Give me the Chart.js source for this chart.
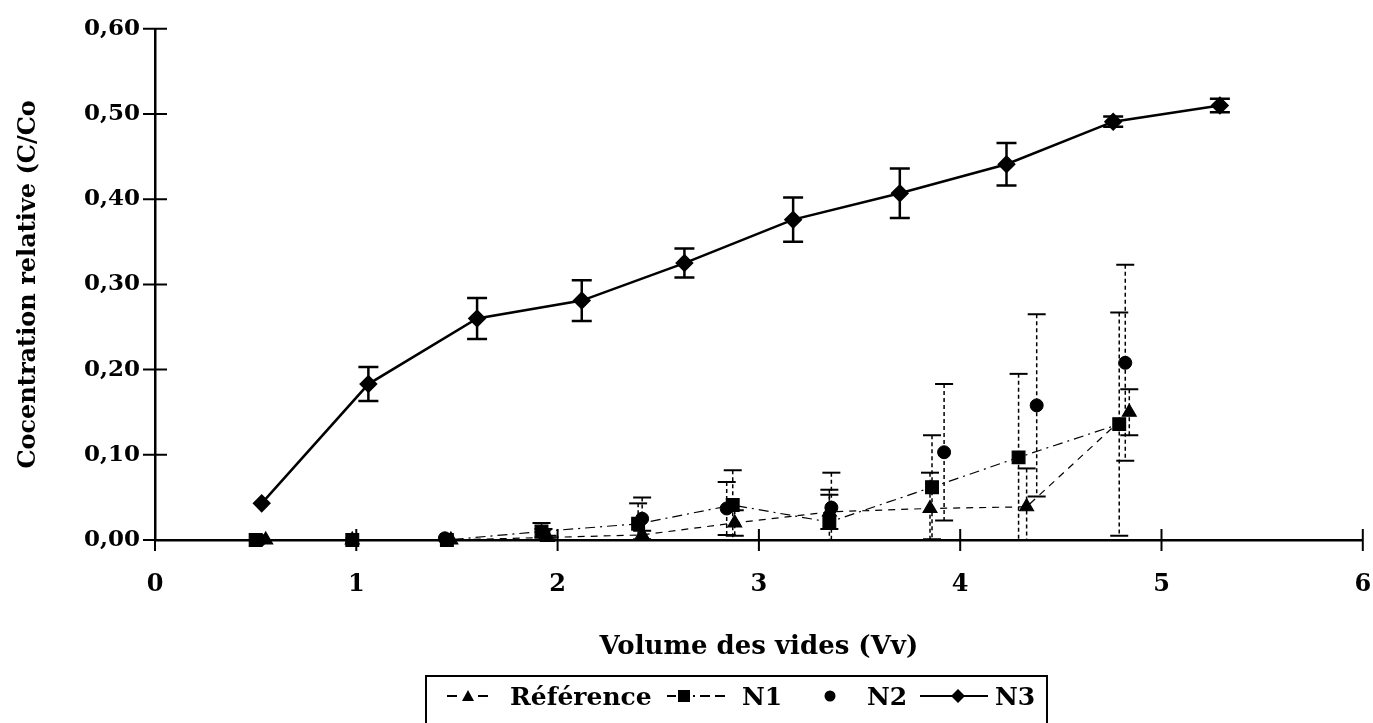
<!DOCTYPE html>
<html><head><meta charset="utf-8">
<script src="https://cdn.jsdelivr.net/npm/chart.js@4.4.1/dist/chart.umd.min.js"></script>
<style>
html,body{margin:0;padding:0;background:#fff;overflow:hidden}
#wrap{position:relative;width:1373px;height:723px;background:#fff}
#c{position:absolute;left:0;top:0}
#legend{position:absolute;left:425px;top:675px;width:623px;height:60px;box-sizing:border-box;border:2px solid #000;font-family:"DejaVu Serif",serif;font-weight:bold;font-size:25px;color:#000}
.item{position:absolute;top:0;height:38px;display:flex;align-items:center;white-space:nowrap}
.item svg{display:block}
</style></head><body>
<div id="wrap"><canvas id="c" width="1373" height="723"></canvas><div id="legend"></div></div>
<script>
// ---- data ----
const seriesNames = ['Référence', 'N1', 'N2', 'N3'];
const xTickLabels = ['0', '1', '2', '3', '4', '5', '6'];
const yTickLabels = ['0,00', '0,10', '0,20', '0,30', '0,40', '0,50', '0,60'];
const xTitle = 'Volume des vides (Vv)';
const yTitle = 'Cocentration relative (C/Co';

const refX   = [0.55, 0.98, 1.47, 1.95, 2.42, 2.88, 3.35, 3.85, 4.33, 4.84];
const refY   = [0, 0, 0, 0.003, 0.006, 0.020, 0.033, 0.037, 0.039, 0.150];
const refErr = [0, 0, 0, 0.002, 0.005, 0.015, 0.020, 0.042, 0.045, 0.027];

const n1X   = [0.50, 0.98, 1.45, 1.92, 2.40, 2.87, 3.35, 3.86, 4.29, 4.79];
const n1Y   = [0, 0, 0, 0.010, 0.019, 0.041, 0.021, 0.062, 0.097, 0.136];
const n1Err = [0, 0, 0, 0.010, 0.024, 0.041, 0.038, 0.061, 0.098, 0.131];

const n2X   = [0.52, 0.98, 1.44, 1.93, 2.42, 2.84, 3.36, 3.92, 4.38, 4.82];
const n2Y   = [0, 0, 0.002, 0.008, 0.025, 0.037, 0.038, 0.103, 0.158, 0.208];
const n2Err = [0, 0, 0, 0.005, 0.025, 0.031, 0.041, 0.080, 0.107, 0.115];

const n3X   = [0.53, 1.06, 1.60, 2.12, 2.63, 3.17, 3.70, 4.23, 4.76, 5.29];
const n3Y   = [0.043, 0.183, 0.260, 0.281, 0.325, 0.376, 0.407, 0.441, 0.491, 0.510];
const n3Err = [0, 0.020, 0.024, 0.024, 0.017, 0.026, 0.029, 0.025, 0.006, 0.008];

// ---- helpers ----
const toPts = (xs, ys) => xs.map((v, i) => ({x: v, y: ys[i]}));
const FONT = '"DejaVu Serif", serif';

const errorBarPlugin = {
  id: 'errorBars',
  beforeDatasetsDraw(chart) {
    const {ctx, scales: {x, y}} = chart;
    chart.data.datasets.forEach(ds => {
      if (!ds.errors) return;
      const st = ds.errorStyle;
      ctx.save();
      ctx.strokeStyle = '#000';
      ds.data.forEach((p, j) => {
        const e = ds.errors[j];
        if (!e) return;
        const px = x.getPixelForValue(p.x);
        const lo = p.y - e, hi = p.y + e;
        const pyHi = y.getPixelForValue(hi);
        const pyLo = y.getPixelForValue(Math.max(lo, 0));
        ctx.lineWidth = st.width;
        ctx.setLineDash(st.dash);
        ctx.beginPath(); ctx.moveTo(px, pyHi); ctx.lineTo(px, pyLo); ctx.stroke();
        ctx.setLineDash([]);
        ctx.lineWidth = st.capWidth;
        ctx.beginPath();
        ctx.moveTo(px - st.cap, pyHi); ctx.lineTo(px + st.cap, pyHi);
        if (lo >= 0) { ctx.moveTo(px - st.cap, pyLo); ctx.lineTo(px + st.cap, pyLo); }
        ctx.stroke();
      });
      ctx.restore();
    });
  }
};

const axisTicksPlugin = {
  id: 'axisTicks',
  afterDraw(chart) {
    const {ctx, scales: {x, y}, chartArea} = chart;
    ctx.save();
    ctx.strokeStyle = '#000';
    ctx.lineWidth = 2;
    ctx.beginPath();
    y.ticks.forEach(t => {
      const py = y.getPixelForValue(t.value);
      ctx.moveTo(chartArea.left - 12, py); ctx.lineTo(chartArea.left + 12, py);
    });
    x.ticks.forEach(t => {
      const px = x.getPixelForValue(t.value);
      ctx.moveTo(px, chartArea.bottom - 11); ctx.lineTo(px, chartArea.bottom + 11);
    });
    ctx.stroke();
    ctx.restore();
  }
};

const lowErr = {width: 1.5, dash: [4, 3], cap: 9, capWidth: 2};

new Chart(document.getElementById('c'), {
  type: 'scatter',
  data: {
    datasets: [
      {label: seriesNames[0], data: toPts(refX, refY), showLine: true,
       borderColor: '#000', borderWidth: 1.2, borderDash: [7, 6],
       pointStyle: 'triangle', pointRadius: 8, pointBackgroundColor: '#000', pointBorderColor: '#000',
       errors: refErr, errorStyle: lowErr},
      {label: seriesNames[1], data: toPts(n1X, n1Y), showLine: true,
       borderColor: '#000', borderWidth: 1.2, borderDash: [10, 5, 2, 5],
       pointStyle: 'rect', pointRadius: 9, pointBackgroundColor: '#000', pointBorderColor: '#000',
       errors: n1Err, errorStyle: lowErr},
      {label: seriesNames[2], data: toPts(n2X, n2Y), showLine: false,
       pointStyle: 'circle', pointRadius: 6.5, pointBackgroundColor: '#000', pointBorderColor: '#000',
       errors: n2Err, errorStyle: lowErr},
      {label: seriesNames[3], data: toPts(n3X, n3Y), showLine: true,
       borderColor: '#000', borderWidth: 2.5,
       pointStyle: 'rectRot', pointRadius: 7.5, pointBackgroundColor: '#000', pointBorderColor: '#000',
       errors: n3Err, errorStyle: {width: 2.5, dash: [], cap: 10, capWidth: 2.5}}
    ]
  },
  options: {
    responsive: false,
    animation: false,
    clip: false,
    layout: {padding: {top: 25, right: 10, left: 0, bottom: 0}},
    plugins: {legend: {display: false}, tooltip: {enabled: false}},
    elements: {line: {tension: 0}},
    scales: {
      x: {
        type: 'linear', min: 0, max: 6,
        ticks: {stepSize: 1, padding: 30, color: '#000',
                font: {family: FONT, weight: 'bold', size: 24},
                callback: (v, i) => xTickLabels[i]},
        grid: {display: false, drawTicks: false},
        border: {display: true, color: '#000', width: 2.5},
        title: {display: true, text: xTitle, color: '#000',
                font: {family: FONT, weight: 'bold', size: 26},
                padding: {top: 0, bottom: 60}},
        afterFit: s => { s.height = 183; s.paddingLeft = 0; s.paddingRight = 0; }
      },
      y: {
        type: 'linear', min: 0, max: 0.6,
        ticks: {stepSize: 0.1, padding: 15, color: '#000',
                font: {family: FONT, weight: 'bold', size: 23},
                callback: (v, i) => yTickLabels[i]},
        grid: {display: false, drawTicks: false},
        border: {display: true, color: '#000', width: 2.5},
        title: {display: true, text: yTitle, color: '#000',
                font: {family: FONT, weight: 'bold', size: 24},
                padding: {top: 14, bottom: 0}},
        afterFit: s => { s.width = 155; }
      }
    }
  },
  plugins: [errorBarPlugin, axisTicksPlugin]
});

// ---- legend (HTML, real text) ----
const samples = [
  '<svg width="42" height="20"><line x1="0" y1="10" x2="10" y2="10" stroke="#000" stroke-width="2"/><polygon points="15,15 21,4 27,15" fill="#000"/><line x1="31" y1="10" x2="41" y2="10" stroke="#000" stroke-width="2"/></svg>',
  '<svg width="62" height="20"><line x1="0" y1="10" x2="9" y2="10" stroke="#000" stroke-width="2"/><rect x="11" y="4" width="12" height="12" fill="#000"/><line x1="26" y1="10" x2="28" y2="10" stroke="#000" stroke-width="2"/><line x1="33" y1="10" x2="43" y2="10" stroke="#000" stroke-width="2"/><line x1="48" y1="10" x2="58" y2="10" stroke="#000" stroke-width="2"/></svg>',
  '<svg width="12" height="20"><circle cx="6" cy="10" r="5.5" fill="#000"/></svg>',
  '<svg width="68" height="20"><line x1="0" y1="10" x2="68" y2="10" stroke="#000" stroke-width="2"/><polygon points="38,3 45,10 38,17 31,10" fill="#000"/></svg>'
];
const sampleLeft = [20, 240, 397, 493];
const textLeft = [83, 315, 440, 568];
const lg = document.getElementById('legend');
seriesNames.forEach((name, i) => {
  const s = document.createElement('div');
  s.className = 'item'; s.style.left = sampleLeft[i] + 'px'; s.innerHTML = samples[i];
  lg.appendChild(s);
  const t = document.createElement('div');
  t.className = 'item'; t.style.left = textLeft[i] + 'px'; t.textContent = name;
  lg.appendChild(t);
});
</script>
</body></html>
